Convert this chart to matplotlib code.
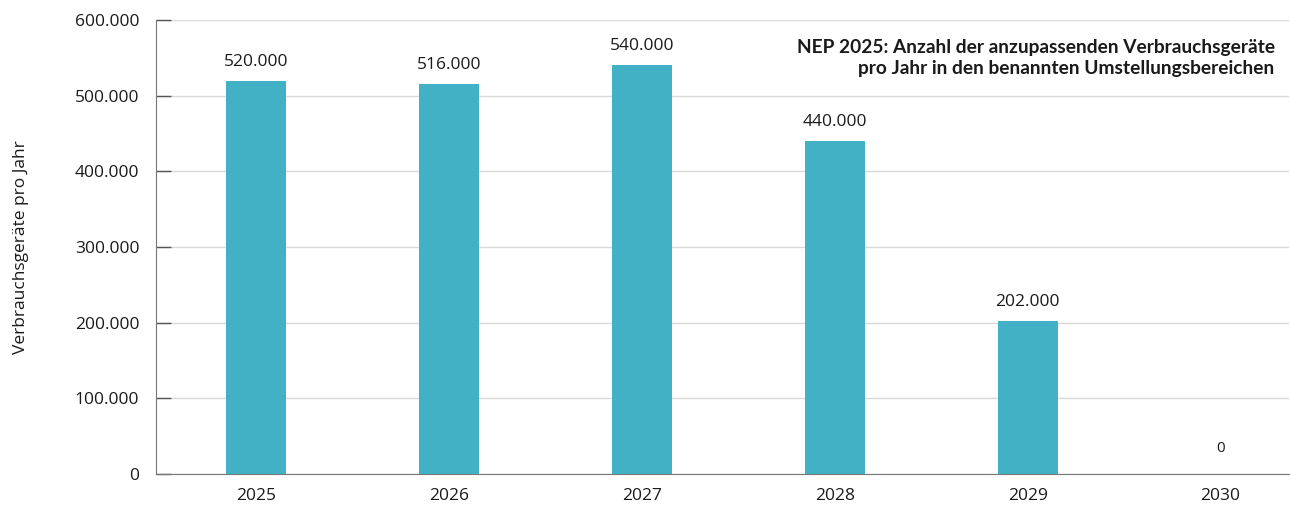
import numpy as np
import matplotlib.pyplot as plt

plt.rcParams['font.family'] = ['Open Sans', 'DejaVu Sans']

# chart data
years = ["2025", "2026", "2027", "2028", "2029", "2030"]
geraete = [520000, 516000, 540000, 440000, 202000, 0]
y_ticks = [0, 100000, 200000, 300000, 400000, 500000, 600000]


def fmt(v):
    return f"{v:,}".replace(",", ".")


fig = plt.figure(figsize=(12.91, 5.09), dpi=100)
ax = fig.add_axes([0.1208, 0.0688, 0.878, 0.8919])

x = np.arange(len(years))
bars = ax.bar(x, geraete, width=0.31, color="#42b0c5", zorder=3)

for xi, v in zip(x, geraete):
    if v > 0:
        ax.text(xi, v + 14500, fmt(v), ha="center", va="bottom",
                fontsize=12.5, color="#1a1a1a")
    else:
        ax.text(xi, 24000, fmt(v), ha="center", va="bottom",
                fontsize=11, color="#1a1a1a")

ax.set_xlim(-0.518, 5.357)
ax.set_ylim(0, 600000)
ax.set_xticks(x)
ax.set_xticklabels(years, fontsize=12.5, color="#1a1a1a")
ax.set_yticks(y_ticks)
ax.set_yticklabels([fmt(t) for t in y_ticks], fontsize=12.5, color="#1a1a1a")
ax.tick_params(axis="x", length=0, pad=10)
ax.tick_params(axis="y", direction="in", length=11, width=1,
               color="#555555", pad=12)

ax.grid(axis="y", color="#d9d9d9", linewidth=1, zorder=0)
for s in ["top", "right"]:
    ax.spines[s].set_visible(False)
ax.spines["left"].set_color("#777777")
ax.spines["bottom"].set_color("#777777")

ax.set_ylabel("Verbrauchsgeräte pro Jahr", fontsize=12.5, color="#1a1a1a")
ax.yaxis.set_label_coords(-0.112, 0.5)

ax.text(0.987, 0.958,
        "NEP 2025: Anzahl der anzupassenden Verbrauchsgeräte\n"
        "pro Jahr in den benannten Umstellungsbereichen",
        transform=ax.transAxes, ha="right", va="top", fontsize=13.8,
        fontweight="bold", family=["Lato", "DejaVu Sans"],
        color="#1a1a1a", linespacing=1.25, zorder=5)

fig.savefig("out.png", dpi=100)
